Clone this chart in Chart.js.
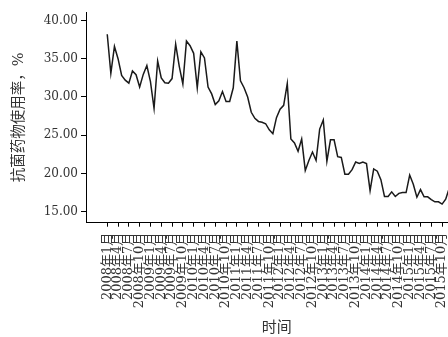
<!DOCTYPE html>
<html>
<head>
<meta charset="utf-8">
<script src="https://cdn.jsdelivr.net/npm/chart.js@4/dist/chart.umd.min.js"></script>
<style>
html,body{margin:0;padding:0;background:#fff;overflow:hidden;width:448px;height:337px;}
canvas{display:block;}
</style>
</head>
<body>
<canvas id="c" width="480" height="337"></canvas>
<script>
// Monthly antibiotic usage rate (%), 2008年1月 ... 2015年12月
const usageRate = [
  38.2, 33.1, 36.6, 35.0, 32.8, 32.2, 31.8, 33.4, 32.9, 31.3, 32.95, 34.1,
  32.0, 28.5, 34.7, 32.5, 31.85, 31.8, 32.4, 36.9, 34.0, 31.7, 37.3, 36.7,
  35.7, 31.2, 35.9, 35.1, 31.3, 30.4, 29.0, 29.5, 30.7, 29.4, 29.4, 31.2,
  37.3, 32.1, 31.2, 30.0, 28.0, 27.2, 26.8, 26.7, 26.5, 25.7, 25.2, 27.3,
  28.4, 28.9, 31.75, 24.5, 24.0, 22.9, 24.5, 20.4, 21.7, 22.8, 21.7, 25.8,
  27.0, 21.6, 24.4, 24.4, 22.2, 22.1, 19.9, 19.9, 20.5, 21.5, 21.3, 21.5,
  21.3, 17.75, 20.6, 20.3, 19.2, 17.0, 17.0, 17.6, 17.0, 17.4, 17.5, 17.5,
  19.8, 18.6, 16.9, 17.9, 16.95, 16.95, 16.6, 16.3, 16.3, 16.0, 16.65, 18.1
];
// x tick positions (month index) and their labels
const xTickIndex = [0,3,6,9,12,15,18,21,24,27,30,33,36,39,42,45,48,51,54,57,60,63,66,69,72,75,78,81,84,87,90,93];
const xTickLabels = [
  "2008年1月","2008年4月","2008年7月","2008年10月",
  "2009年1月","2009年4月","2009年7月","2009年10月",
  "2010年1月","2010年4月","2010年7月","2010年10月",
  "2011年1月","2011年4月","2011年7月","2011年10月",
  "2012年1月","2012年4月","2012年7月","2012年10月",
  "2013年1月","2013年4月","2013年7月","2013年10月",
  "2014年1月","2014年4月","2014年7月","2014年10月",
  "2015年1月","2015年4月","2015年7月","2015年10月"
];
const yTickValues = [15, 20, 25, 30, 35, 40];
const yTitle = "抗菌药物使用率，%";
const xTitle = "时间";

const FONT = "'DejaVu Serif', 'Noto Sans CJK SC', serif";
const points = usageRate.map((v, i) => ({x: i, y: v}));

new Chart(document.getElementById('c'), {
  type: 'line',
  data: {
    datasets: [{
      data: points,
      borderColor: '#1a1a1a',
      borderWidth: 1.5,
      pointRadius: 0,
      tension: 0,
      fill: false
    }]
  },
  options: {
    responsive: false,
    animation: false,
    devicePixelRatio: 1,
    layout: {padding: {left: 0, top: 12, right: 12.7, bottom: 0}},
    plugins: {legend: {display: false}, tooltip: {enabled: false}},
    scales: {
      x: {
        type: 'linear',
        min: -5.9,
        max: 100,
        afterBuildTicks: s => { s.ticks = xTickIndex.map(v => ({value: v})); },
        afterFit: s => { s.height = 114.3; },
        ticks: {
          autoSkip: false,
          minRotation: 90,
          maxRotation: 90,
          padding: 6,
          color: '#333',
          font: {family: FONT, size: 13},
          callback: (v, i) => xTickLabels[i]
        },
        grid: {drawOnChartArea: false, drawTicks: true, tickLength: 4, color: '#000'},
        border: {display: true, color: '#000', width: 1},
        title: {display: true, text: xTitle, color: '#333', font: {family: FONT, size: 15}, padding: {top: 0, bottom: 0}}
      },
      y: {
        type: 'linear',
        min: 13.57,
        max: 41.1,
        afterBuildTicks: s => { s.ticks = yTickValues.map(v => ({value: v})); },
        afterFit: s => { s.width = 86; },
        ticks: {
          padding: 3,
          color: '#333',
          font: {family: FONT, size: 12},
          callback: v => Number(v).toFixed(2)
        },
        grid: {drawOnChartArea: false, drawTicks: true, tickLength: 5, color: '#000'},
        border: {display: true, color: '#000', width: 1},
        title: {display: true, text: yTitle, color: '#333', font: {family: FONT, size: 14.5}, padding: {top: 11, bottom: 0}}
      }
    }
  }
});
</script>
</body>
</html>
